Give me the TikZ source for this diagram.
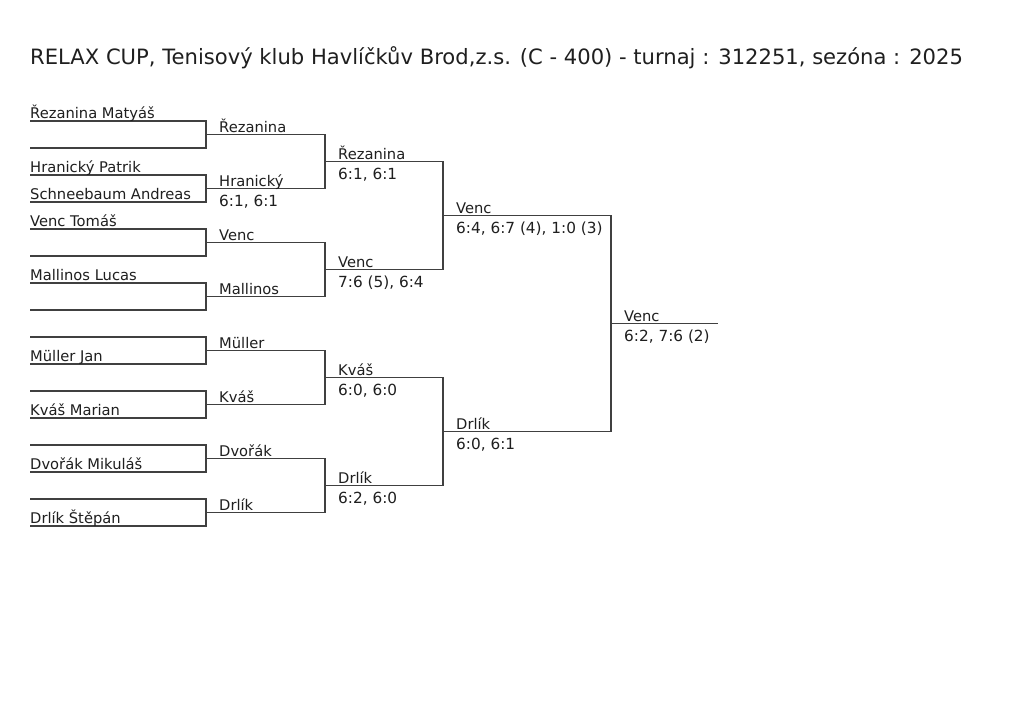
\documentclass[tikz,border=0pt]{standalone}
\usepackage{fontspec}
\setmainfont{DejaVu Sans}
\usetikzlibrary{positioning}
\newcommand{\namefont}{\fontsize{14.7}{16}\selectfont}
\newcommand{\scorefont}{\fontsize{15.3}{17}\selectfont}
\newcommand{\titlefont}{\fontsize{21.1}{24}\selectfont}

\begin{document}
\begin{tikzpicture}[
      x=1pt, y=-1pt,
      every node/.style={inner sep=0pt, text depth=0pt, font=\namefont, text=black!88},
      bline/.style={draw=black!75, line width=1.3pt},
      pname/.style={above right=2pt and 0pt of #1},
      wname/.style={above right=2pt and 13pt of #1},
      score/.style={below right=6pt and 13pt of #1, font=\scorefont}
    ]
      \fill[white] (0,0) rectangle (1024,711);
      \useasboundingbox (0,0) rectangle (1024,711);

      \node[font=\titlefont, anchor=base west] (title) at (30,65)
        {RELAX CUP, Tenisový klub Havlíčkův Brod,z.s. (C - 400) - turnaj : 312251, sezóna : 2025};

      \coordinate (a1) at (30,121);   \coordinate (a2) at (30,148);
      \coordinate (a3) at (30,175);   \coordinate (a4) at (30,202);
      \coordinate (a5) at (30,229);   \coordinate (a6) at (30,256);
      \coordinate (a7) at (30,283);   \coordinate (a8) at (30,310);
      \coordinate (a9) at (30,337);   \coordinate (a10) at (30,364);
      \coordinate (a11) at (30,391);  \coordinate (a12) at (30,418);
      \coordinate (a13) at (30,445);  \coordinate (a14) at (30,472);
      \coordinate (a15) at (30,499);  \coordinate (a16) at (30,526);

      \coordinate (b1) at (206,134.5); \coordinate (b2) at (206,188.5);
      \coordinate (b3) at (206,242.5); \coordinate (b4) at (206,296.5);
      \coordinate (b5) at (206,350.5); \coordinate (b6) at (206,404.5);
      \coordinate (b7) at (206,458.5); \coordinate (b8) at (206,512.5);

      \coordinate (c1) at (325,161.5); \coordinate (c2) at (325,269.5);
      \coordinate (c3) at (325,377.5); \coordinate (c4) at (325,485.5);

      \coordinate (d1) at (443,215.5); \coordinate (d2) at (443,431.5);

      \coordinate (fin) at (611,323.5);
      \coordinate (end) at (718,323.5);

      \draw[bline] (a1) -| (b1);  \draw[bline] (a2) -| (b1);
      \draw[bline] (a3) -| (b2);  \draw[bline] (a4) -| (b2);
      \draw[bline] (a5) -| (b3);  \draw[bline] (a6) -| (b3);
      \draw[bline] (a7) -| (b4);  \draw[bline] (a8) -| (b4);
      \draw[bline] (a9) -| (b5);  \draw[bline] (a10) -| (b5);
      \draw[bline] (a11) -| (b6); \draw[bline] (a12) -| (b6);
      \draw[bline] (a13) -| (b7); \draw[bline] (a14) -| (b7);
      \draw[bline] (a15) -| (b8); \draw[bline] (a16) -| (b8);

      \draw[bline] (b1) -| (c1); \draw[bline] (b2) -| (c1);
      \draw[bline] (b3) -| (c2); \draw[bline] (b4) -| (c2);
      \draw[bline] (b5) -| (c3); \draw[bline] (b6) -| (c3);
      \draw[bline] (b7) -| (c4); \draw[bline] (b8) -| (c4);

      \draw[bline] (c1) -| (d1); \draw[bline] (c2) -| (d1);
      \draw[bline] (c3) -| (d2); \draw[bline] (c4) -| (d2);

      \draw[bline] (d1) -| (fin); \draw[bline] (d2) -| (fin);
      \draw[bline] (fin) -- (end);

      \node[pname=a1] (p1) {Řezanina Matyáš};
      \node[pname=a3] (p3) {Hranický Patrik};
      \node[pname=a4] (p4) {Schneebaum Andreas};
      \node[pname=a5] (p5) {Venc Tomáš};
      \node[pname=a7] (p7) {Mallinos Lucas};
      \node[pname=a10] (p10) {Müller Jan};
      \node[pname=a12] (p12) {Kváš Marian};
      \node[pname=a14] (p14) {Dvořák Mikuláš};
      \node[pname=a16] (p16) {Drlík Štěpán};

      \node[wname=b1] (w1) {Řezanina};
      \node[wname=b2] (w2) {Hranický};
      \node[score=b2] (s2) {6:1, 6:1};
      \node[wname=b3] (w3) {Venc};
      \node[wname=b4] (w4) {Mallinos};
      \node[wname=b5] (w5) {Müller};
      \node[wname=b6] (w6) {Kváš};
      \node[wname=b7] (w7) {Dvořák};
      \node[wname=b8] (w8) {Drlík};

      \node[wname=c1] (x1) {Řezanina};
      \node[score=c1] (t1) {6:1, 6:1};
      \node[wname=c2] (x2) {Venc};
      \node[score=c2] (t2) {7:6 (5), 6:4};
      \node[wname=c3] (x3) {Kváš};
      \node[score=c3] (t3) {6:0, 6:0};
      \node[wname=c4] (x4) {Drlík};
      \node[score=c4] (t4) {6:2, 6:0};

      \node[wname=d1] (y1) {Venc};
      \node[score=d1] (u1) {6:4, 6:7 (4), 1:0 (3)};
      \node[wname=d2] (y2) {Drlík};
      \node[score=d2] (u2) {6:0, 6:1};

      \node[wname=fin] (champ) {Venc};
      \node[score=fin] (cscore) {6:2, 7:6 (2)};
    \end{tikzpicture}
\end{document}
